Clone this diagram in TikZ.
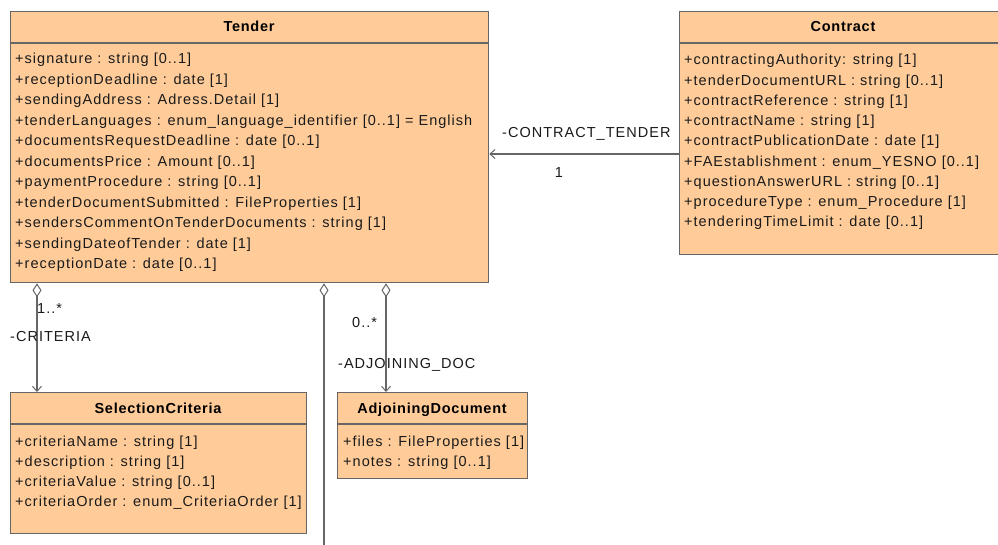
\documentclass[tikz,border=0pt]{standalone}
\usepackage{fontspec}
\setmainfont{Liberation Sans}
\newfontfamily\attrfont[LetterSpace=7]{Liberation Sans}
\newfontfamily\headfont[LetterSpace=5]{Liberation Sans}
\usetikzlibrary{arrows.meta}
\definecolor{classfill}{HTML}{FFCC99}
\definecolor{classline}{HTML}{666666}
\definecolor{textdark}{HTML}{1A1A1A}
\begin{document}
\begin{tikzpicture}[x=1pt,y=-1pt,
  classbox/.style={draw=classline, fill=classfill, line width=1.3pt, inner sep=0pt, anchor=north west},
  sepline/.style={draw=classline, line width=1.2pt},
  attr/.style={anchor=base west, inner sep=0pt, text=textdark, font=\attrfont\fontsize{14.5}{16}\selectfont},
  head/.style={anchor=base, inner sep=0pt, text=black, font=\headfont\bfseries\fontsize{14.5}{16}\selectfont},
  lbl/.style={anchor=base west, inner sep=0pt, text=textdark, font=\attrfont\fontsize{14.5}{16}\selectfont},
  assoc/.style={draw=classline, line width=1.2pt, -{Straight Barb[length=5pt,width=9pt,line width=1pt]}},
  aggr/.style={draw=classline, line width=1.2pt, {Diamond[open,length=14pt,width=9pt,line width=1pt]}-{Straight Barb[length=5pt,width=9pt,line width=1pt]}},
  aggrfree/.style={draw=classline, line width=1.2pt, {Diamond[open,length=14pt,width=9pt,line width=1pt]}-},
]
\useasboundingbox (0,0) rectangle (998,545);
\clip (0,0) rectangle (998,545);

% class boxes
\node[classbox, minimum width=478pt, minimum height=271pt] (tender) at (10,11) {};
\node[classbox, minimum width=330pt, minimum height=243pt] (contract) at (679,11) {};
\node[classbox, minimum width=296pt, minimum height=141pt] (selcrit) at (10,392) {};
\node[classbox, minimum width=190pt, minimum height=86pt] (adjdoc) at (337,392) {};

% compartment separators
\foreach \b in {tender,contract,selcrit,adjdoc}
  \draw[sepline] ([yshift=-32pt]\b.north west) -- ([yshift=-32pt]\b.north east);

% class names
\node[head] (tenderName) at (249,32) {Tender};
\node[head] (contractName) at (843,32) {Contract};
\node[head] (selcritName) at (158,413) {SelectionCriteria};
\node[head] (adjdocName) at (432,413) {AdjoiningDocument};

% Tender attributes
\foreach \t [count=\i from 0] in {
  +signature : string [0..1],
  +receptionDeadline : date [1],
  +sendingAddress : Adress.Detail [1],
  +tenderLanguages : enum\_language\_identifier [0..1] = English,
  +documentsRequestDeadline : date [0..1],
  +documentsPrice : Amount [0..1],
  +paymentProcedure : string [0..1],
  +tenderDocumentSubmitted : FileProperties [1],
  +sendersCommentOnTenderDocuments : string [1],
  +sendingDateofTender : date [1],
  +receptionDate : date [0..1]}
  \node[attr] (tenderAttr\i) at (15,{64+20.5*\i}) {\t};

% Contract attributes
\foreach \t [count=\i from 0] in {
  +contractingAuthority: string [1],
  +tenderDocumentURL : string [0..1],
  +contractReference : string [1],
  +contractName : string [1],
  +contractPublicationDate : date [1],
  +FAEstablishment : enum\_YESNO [0..1],
  +questionAnswerURL : string [0..1],
  +procedureType : enum\_Procedure [1],
  +tenderingTimeLimit : date [0..1]}
  \node[attr] (contractAttr\i) at (684,{65+20.25*\i}) {\t};

% SelectionCriteria attributes
\foreach \t [count=\i from 0] in {
  +criteriaName : string [1],
  +description : string [1],
  +criteriaValue : string [0..1],
  +criteriaOrder : enum\_CriteriaOrder [1]}
  \node[attr] (selcritAttr\i) at (15,{446+20.3*\i}) {\t};

% AdjoiningDocument attributes
\foreach \t [count=\i from 0] in {
  +files : FileProperties [1],
  +notes : string [0..1]}
  \node[attr] (adjdocAttr\i) at (343,{446+20.5*\i}) {\t};

% connector positions
\coordinate (ctLevel) at (0,154);
\coordinate (critX) at (37,0);
\coordinate (midX) at (324,0);
\coordinate (adjX) at (386,0);
\coordinate (midEnd) at (324,560);

% associations
\draw[assoc] (contract.west |- ctLevel) -- (tender.east |- ctLevel);
\draw[aggr] (tender.south -| critX) -- (selcrit.north -| critX);
\draw[aggr] (tender.south -| adjX) -- (adjdoc.north -| adjX);
\draw[aggrfree] (tender.south -| midX) -- (midEnd);

% role names and multiplicities
\node[lbl] (ctRole) at (502,138) {-CONTRACT\_TENDER};
\node[lbl, anchor=base] (ctMult) at (559,178) {1};
\node[lbl] (critMult) at (37,313) {1..*};
\node[lbl] (critRole) at (10,341) {-CRITERIA};
\node[lbl] (adjMult) at (352,327) {0..*};
\node[lbl] (adjRole) at (338,368) {-ADJOINING\_DOC};
\end{tikzpicture}
\end{document}
